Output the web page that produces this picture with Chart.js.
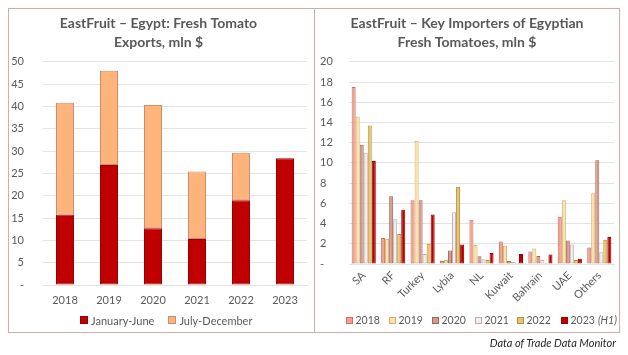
<!DOCTYPE html>
<html>
<head>
<meta charset="utf-8">
<script src="https://cdn.jsdelivr.net/npm/chart.js@4"></script>
<style>
  html, body { margin:0; padding:0; background:#fff; }
  body { width:628px; height:355px; position:relative; overflow:hidden; font-family: Lato, "Liberation Sans", sans-serif; }
  #frame { position:absolute; left:8px; top:8px; width:610px; height:323px; border:1.5px solid #CFAEA9; }
  #divider { position:absolute; left:313.5px; top:8px; width:1.5px; height:325px; background:#CFAEA9; }
  canvas { position:absolute; }
  .legend { position:absolute; display:flex; align-items:center; font-size:11px; color:#595959; white-space:nowrap; height:14px; }
  .legend .item { display:flex; align-items:center; }
  .legend .box { width:6px; height:6px; border:1px solid; margin-right:3px; }
  #legR { font-size:10.5px; }
  #legR .item { position:absolute; top:0; height:14px; }
  #legR .box { width:5px; height:5px; margin-right:2.5px; }
  #source { position:absolute; right:12px; top:336px; font-size:11px; font-style:italic; color:#262626; }
</style>
</head>
<body>
<div id="frame"></div>
<div id="divider"></div>
<canvas id="left" width="303" height="322" style="left:10px;top:10px;width:303px;height:322px;"></canvas>
<canvas id="right" width="303" height="322" style="left:316px;top:10px;width:303px;height:322px;"></canvas>
<div id="legL" class="legend" style="left:80px;top:313px;"></div>
<div id="legR" class="legend" style="left:0px;top:313px;width:628px;"></div>
<div id="source">Data of Trade Data Monitor</div>
<script>
// ---- Left chart data ----
const years = ['2018', '2019', '2020', '2021', '2022', '2023'];
const janJune = [15.8, 26.9, 12.7, 10.3, 19.0, 28.4];
const julyDec = [25.0, 21.1, 27.6, 15.1, 10.6, null];
const leftSeriesNames = ['January-June', 'July-December'];

// ---- Right chart data ----
const importers = ['SA', 'RF', 'Turkey', 'Lybia', 'NL', 'Kuwait', 'Bahrain', 'UAE', 'Others'];
const v2018 = [17.5, 2.57, 6.3, 0.3, 4.37, 2.23, 1.23, 4.67, 1.63];
const v2019 = [14.6, 2.5, 12.2, 0.4, 1.87, 1.8, 1.53, 6.3, 7.0];
const v2020 = [11.8, 6.7, 6.3, 1.33, 0.77, 0.3, 0.8, 2.33, 10.27];
const v2021 = [11.0, 4.43, 1.0, 5.13, 0.47, 0.23, 0.4, 1.93, 1.17];
const v2022 = [13.7, 2.97, 2.0, 7.63, 0.4, 0.1, 0.13, 0.4, 2.4];
const v2023 = [10.2, 5.37, 4.9, 1.93, 1.1, 1.0, 0.93, 0.53, 2.67];
const rightSeriesNames = ['2018', '2019', '2020', '2021', '2022', '2023'];

const TXT = '#595959';
const GRID = '#E3E3E3';
const FONT = 'Lato, "Liberation Sans", sans-serif';

const leftStyles = [
  { bg: '#C00000', bd: '#9A0000' },
  { bg: '#FFB47C', bd: '#C98E6E' }
];
const rightStyles = [
  { bg: '#F4A08C', bd: '#C9705E' },
  { bg: '#FFE1A0', bd: '#CFAE72' },
  { bg: '#D49C8C', bd: '#A5645A' },
  { bg: '#EFEFEF', bd: '#C9A8A6' },
  { bg: '#E9C46A', bd: '#B28E3E' },
  { bg: '#C00000', bd: '#9A0000' }
];

new Chart(document.getElementById('left'), {
  type: 'bar',
  data: {
    labels: years,
    datasets: [
      { label: leftSeriesNames[0], data: janJune, backgroundColor: leftStyles[0].bg, borderColor: leftStyles[0].bd, borderWidth: 1, borderSkipped: false },
      { label: leftSeriesNames[1], data: julyDec, backgroundColor: leftStyles[1].bg, borderColor: leftStyles[1].bd, borderWidth: 1, borderSkipped: false }
    ]
  },
  options: {
    responsive: false,
    animation: false,
    layout: { padding: { left: 0, right: 6, top: 0, bottom: 22 } },
    datasets: { bar: { categoryPercentage: 0.41, barPercentage: 1 } },
    plugins: {
      legend: { display: false },
      tooltip: { enabled: false },
      title: {
        display: true,
        text: ['EastFruit \u2013 Egypt: Fresh Tomato', 'Exports, mln $'],
        color: TXT,
        font: { family: FONT, size: 14, weight: 'bold', lineHeight: 1.35 },
        padding: { top: 4, bottom: 10 }
      }
    },
    scales: {
      x: {
        stacked: true,
        grid: { display: false, drawTicks: false },
        border: { display: true, color: GRID },
        ticks: { color: TXT, font: { family: FONT, size: 11 }, padding: 9 },
        afterFit: (s) => { s.height = 25; }
      },
      y: {
        stacked: true,
        min: 0, max: 50,
        grid: { color: GRID, drawTicks: false },
        border: { display: false },
        ticks: {
          stepSize: 5, color: TXT, font: { family: FONT, size: 11 }, padding: 19, crossAlign: 'near',
          callback: (v) => v === 0 ? '-' : v
        },
        afterFit: (s) => { s.width = 33; }
      }
    }
  }
});

const rightData = [v2018, v2019, v2020, v2021, v2022, v2023];
new Chart(document.getElementById('right'), {
  type: 'bar',
  data: {
    labels: importers,
    datasets: rightData.map((d, i) => ({
      label: rightSeriesNames[i], data: d,
      backgroundColor: rightStyles[i].bg, borderColor: rightStyles[i].bd, borderWidth: 1, borderSkipped: false
    }))
  },
  options: {
    responsive: false,
    animation: false,
    layout: { padding: { left: 4, right: 5, top: 0, bottom: 23 } },
    datasets: { bar: { categoryPercentage: 0.82, barPercentage: 1 } },
    plugins: {
      legend: { display: false },
      tooltip: { enabled: false },
      title: {
        display: true,
        text: ['EastFruit \u2013 Key Importers of Egyptian', 'Fresh Tomatoes, mln $'],
        color: TXT,
        font: { family: FONT, size: 14, weight: 'bold', lineHeight: 1.35 },
        padding: { top: 4, bottom: 10 }
      }
    },
    scales: {
      x: {
        grid: { display: false, drawTicks: false },
        border: { display: true, color: GRID },
        ticks: { color: TXT, font: { family: FONT, size: 11 }, padding: 5, minRotation: 45, maxRotation: 45, autoSkip: false },
        afterFit: (s) => { s.height = 45; }
      },
      y: {
        min: 0, max: 20,
        grid: { color: GRID, drawTicks: false },
        border: { display: false },
        ticks: {
          stepSize: 2, color: TXT, font: { family: FONT, size: 11 }, padding: 6, crossAlign: 'far',
          callback: (v) => v === 0 ? '-' : v
        },
        afterFit: (s) => { s.width = 29; }
      }
    }
  }
});

function buildLegend(el, names, styles, gap, extra, lefts) {
  names.forEach((n, i) => {
    const it = document.createElement('div');
    it.className = 'item';
    if (lefts) it.style.left = lefts[i] + 'px';
    else if (i > 0) it.style.marginLeft = gap + 'px';
    const b = document.createElement('div');
    b.className = 'box';
    b.style.background = styles[i].bg;
    b.style.borderColor = styles[i].bd;
    const t = document.createElement('span');
    t.textContent = n;
    it.appendChild(b); it.appendChild(t);
    if (extra && extra[i]) {
      const e = document.createElement('i');
      e.textContent = extra[i];
      e.style.marginLeft = '3px';
      it.appendChild(e);
    }
    el.appendChild(it);
  });
}
buildLegend(document.getElementById('legL'), leftSeriesNames, leftStyles, 14);
buildLegend(document.getElementById('legR'), rightSeriesNames, rightStyles, 0, { 5: '(H1)' }, [346, 389, 432, 475, 517, 561]);
</script>
</body>
</html>
